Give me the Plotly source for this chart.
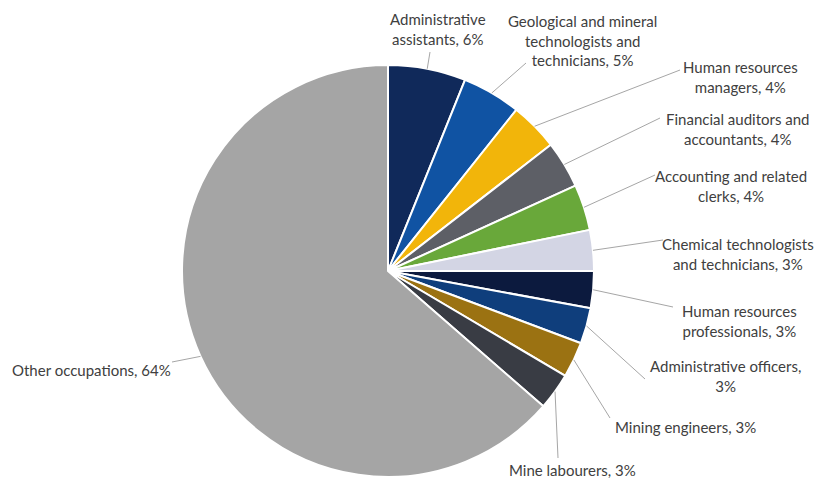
import math
import plotly.graph_objects as go

# ---- data ----
categories = [
    "Administrative assistants",
    "Geological and mineral technologists and technicians",
    "Human resources managers",
    "Financial auditors and accountants",
    "Accounting and related clerks",
    "Chemical technologists and technicians",
    "Human resources professionals",
    "Administrative officers",
    "Mining engineers",
    "Mine labourers",
    "Other occupations",
]
shares = [6.1, 4.6, 3.8, 3.7, 3.6, 3.2, 2.9, 2.8, 2.8, 2.9, 63.6]
label_text = [
    "Administrative<br>assistants, {p}",
    "Geological and mineral<br>technologists and<br>technicians, {p}",
    "Human resources<br>managers, {p}",
    "Financial auditors and<br>accountants, {p}",
    "Accounting and related<br>clerks, {p}",
    "Chemical technologists<br>and technicians, {p}",
    "Human resources<br>professionals, {p}",
    "Administrative officers,<br>{p}",
    "Mining engineers, {p}",
    "Mine labourers, {p}",
    "Other occupations, {p}",
]
colors = [
    "#10295a", "#1053a3", "#f2b50a", "#5d5f66", "#69a83a", "#d3d5e4",
    "#0c1a3e", "#0f3e7c", "#9b7212", "#393c44", "#a5a5a5",
]

# ---- layout geometry (pixels) ----
W, H = 817, 485
CX, CY, R = 388, 271, 206
# label text centres and leader-line start points (pixels)
label_pos = [
    (438, 29), (582, 40), (740, 77), (737, 129), (731, 186), (738, 254),
    (739, 321), (725, 376), (685, 427), (572, 470), (91, 370),
]
leader_start = [
    (430, 52), (526, 63), (680, 70), (660, 118), (655, 175), (663, 240),
    (673, 307), (645, 379), (610, 418), (558, 458), (172, 362),
]


def px(x):
    return x / W


def py(y):
    return 1 - y / H


fig = go.Figure()
fig.add_trace(go.Pie(
    labels=categories,
    values=shares,
    sort=False,
    direction="clockwise",
    rotation=0,
    textinfo="none",
    hoverinfo="label+percent",
    marker=dict(colors=colors, line=dict(color="white", width=2)),
    domain=dict(x=[px(CX - R), px(CX + R)], y=[py(CY + R), py(CY - R)]),
    showlegend=False,
))

total = sum(shares)
cum = 0.0
shapes = []
annotations = []
for i, v in enumerate(shares):
    mid = (cum + v / 2) / total * 2 * math.pi
    cum += v
    ex = CX + R * math.sin(mid)
    ey = CY - R * math.cos(mid)
    sx, sy = leader_start[i]
    shapes.append(dict(type="line", xref="paper", yref="paper",
                       x0=px(sx), y0=py(sy), x1=px(ex), y1=py(ey),
                       line=dict(color="#a6a6a6", width=1)))
    pct = "{:.0f}%".format(round(v / total * 100))
    lx, ly = label_pos[i]
    annotations.append(dict(
        text=label_text[i].format(p=pct), x=px(lx), y=py(ly),
        xref="paper", yref="paper", xanchor="center", yanchor="middle",
        showarrow=False, align="center",
        font=dict(family="Lato", size=15, color="#404040"),
    ))

fig.update_layout(
    width=W, height=H,
    margin=dict(l=0, r=0, t=0, b=0),
    paper_bgcolor="white", plot_bgcolor="white",
    shapes=shapes, annotations=annotations,
)

fig.write_html("out.html")
